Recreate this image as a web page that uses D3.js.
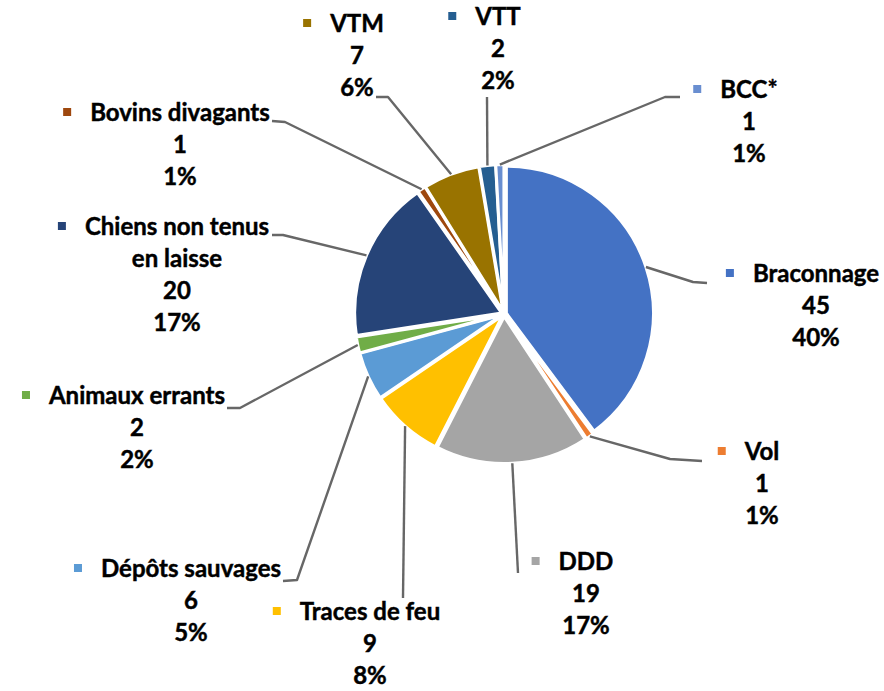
<!DOCTYPE html>
<html lang="fr">
<head>
<meta charset="utf-8">
<script src="https://cdn.jsdelivr.net/npm/d3@7/dist/d3.min.js"></script>
<style>
  html, body { margin: 0; padding: 0; background: #ffffff; }
  svg { display: block; }
  text { font-family: Lato, "Noto Sans", sans-serif; font-weight: 700; fill: #000; stroke: #000; stroke-width: 0.45px; }
</style>
</head>
<body>
<svg id="chart" width="884" height="691"></svg>
<script>
// Infractions constatées, par type (nombre d'occurrences)
const categories = [
  "Braconnage", "Vol", "DDD", "Traces de feu", "Dépôts sauvages",
  "Animaux errants", "Chiens non tenus en laisse", "Bovins divagants",
  "VTM", "VTT", "BCC*"
];
const counts = [45, 1, 19, 9, 6, 2, 20, 1, 7, 2, 1];
const percentLabels = ["40%", "1%", "17%", "8%", "5%", "2%", "17%", "1%", "6%", "2%", "1%"];
const colors = [
  "#4472C4", "#ED7D31", "#A5A5A5", "#FFC000", "#5B9BD5",
  "#70AD47", "#264478", "#9E480E", "#997300", "#255E91", "#698ED0"
];

// Placement of each data label: centre of the text block, first baseline,
// optional wrap width, and the leader-line bend points next to the label.
const labelLayout = [
  { cx: 816, y: 282, leader: [[707, 283], [693, 282]] },
  { cx: 762, y: 460, leader: [[702, 461], [670, 459]] },
  { cx: 586, y: 570, leader: [[518, 573]] },
  { cx: 370, y: 620, leader: [[403, 598]] },
  { cx: 191, y: 577, leader: [[283, 581], [297, 580]] },
  { cx: 137, y: 404, leader: [[227, 408], [240, 408]] },
  { cx: 177, y: 235, wrap: 200, leader: [[272, 235], [283, 235]] },
  { cx: 180, y: 121, leader: [[272, 121], [285, 122]] },
  { cx: 357, y: 32, leader: [[376, 97], [388, 97]] },
  { cx: 498, y: 25, leader: [[487, 97]] },
  { cx: 749, y: 98, leader: [[680, 97], [665, 97]] }
];

const cx = 504, cy = 314, radius = 147, explode = 2.5;
const fontSize = 24, lineStep = 32;

const svg = d3.select("#chart");

const data = categories.map((name, i) => ({
  name, value: counts[i], pct: percentLabels[i], color: colors[i], layout: labelLayout[i]
}));

const pie = d3.pie().sort(null).value(d => d.value);
const arcs = pie(data);

const arc = d3.arc().innerRadius(0).outerRadius(radius);

function offset(a) {
  const m = (a.startAngle + a.endAngle) / 2;
  return [Math.sin(m) * explode, -Math.cos(m) * explode];
}

const pieG = svg.append("g").attr("transform", `translate(${cx},${cy})`);

// Slices
pieG.selectAll("path.slice")
  .data(arcs)
  .join("path")
  .attr("class", "slice")
  .attr("transform", d => `translate(${offset(d)})`)
  .attr("d", arc)
  .attr("fill", d => d.data.color)
  .attr("stroke", "#ffffff")
  .attr("stroke-width", 3)
  .attr("stroke-linejoin", "round");

// Leader lines from the slice edge to each label
const line = d3.line();
svg.append("g").selectAll("path.leader")
  .data(arcs)
  .join("path")
  .attr("class", "leader")
  .attr("d", d => {
    const m = (d.startAngle + d.endAngle) / 2;
    const o = offset(d);
    const start = [cx + o[0] + Math.sin(m) * radius, cy + o[1] - Math.cos(m) * radius];
    const pts = [start].concat(d.data.layout.leader.slice().reverse());
    return line(pts);
  })
  .attr("fill", "none")
  .attr("stroke", "#676767")
  .attr("stroke-width", 2.4)
  .attr("stroke-linejoin", "round");

// Labels: category name (with legend key), value, percentage
const labels = svg.append("g").selectAll("g.label")
  .data(arcs)
  .join("g")
  .attr("class", "label");

labels.each(function (d) {
  const g = d3.select(this);
  const L = d.data.layout;

  // word wrap of the category name
  let nameLines = [d.data.name];
  if (L.wrap) {
    const words = d.data.name.split(" ");
    nameLines = [];
    let cur = "";
    const probe = g.append("text").style("font-size", fontSize + "px");
    words.forEach(w => {
      const test = cur ? cur + " " + w : w;
      probe.text(test);
      if (probe.node().getComputedTextLength() > L.wrap && cur) {
        nameLines.push(cur);
        cur = w;
      } else {
        cur = test;
      }
    });
    nameLines.push(cur);
    probe.remove();
  }

  const allLines = nameLines.concat([String(d.data.value), d.data.pct]);
  const t = g.append("text")
    .attr("text-anchor", "middle")
    .style("font-size", fontSize + "px");
  allLines.forEach((s, i) => {
    t.append("tspan").attr("x", L.cx).attr("y", L.y + i * lineStep).text(s);
  });

  const firstW = t.select("tspan").node().getComputedTextLength();
  const left = L.cx - firstW / 2;
  const ms = 8;
  g.insert("rect", "text")
    .attr("x", left - 23 - ms / 2)
    .attr("y", L.y - 9 - ms / 2)
    .attr("width", ms)
    .attr("height", ms)
    .attr("fill", d.data.color);
});
</script>
</body>
</html>
